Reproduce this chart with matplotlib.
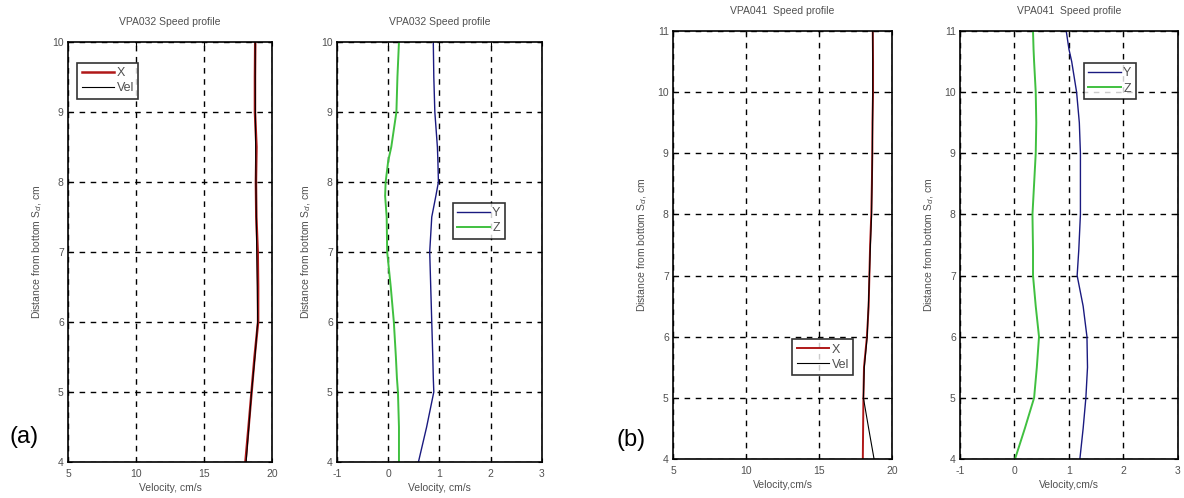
import numpy as np
import matplotlib
matplotlib.use("Agg")
import matplotlib.pyplot as plt

plt.rcParams['font.family'] = ['Liberation Sans', 'DejaVu Sans']
plt.rcParams['axes.unicode_minus'] = False

# ---- data ----
# (a) VPA032
depth_a = [4, 4.5, 5, 5.5, 6, 6.5, 7, 7.5, 8, 8.5, 9, 9.5, 10]
vel_a = [18.1, 18.3, 18.5, 18.75, 18.95, 18.92, 18.88, 18.85, 18.82, 18.8, 18.78, 18.77, 18.77]
x_a = [18.05, 18.28, 18.5, 18.72, 18.98, 18.98, 18.95, 18.85, 18.82, 18.86, 18.75, 18.75, 18.77]

depth_a2 = [4, 4.5, 5, 5.2, 5.5, 6, 6.5, 7, 7.5, 7.8, 8, 8.3, 8.5, 9, 9.5, 10]
y_a = [0.59, 0.75, 0.89, 0.88, 0.87, 0.85, 0.83, 0.81, 0.85, 0.93, 0.98, 0.97, 0.96, 0.91, 0.89, 0.88]
z_a = [0.21, 0.21, 0.19, 0.17, 0.15, 0.11, 0.05, -0.02, -0.03, -0.06, -0.05, 0.0, 0.06, 0.16, 0.18, 0.21]

# (b) VPA041
depth_b = [4, 4.5, 5, 5.5, 6, 6.5, 7, 7.5, 8, 8.5, 9, 9.5, 10, 10.5, 11]
vel_b = [18.77, 18.4, 18.04, 18.1, 18.3, 18.38, 18.45, 18.52, 18.6, 18.63, 18.65, 18.67, 18.68, 18.68, 18.68]
x_b = [18.0, 18.02, 18.04, 18.08, 18.28, 18.4, 18.45, 18.5, 18.58, 18.62, 18.65, 18.66, 18.7, 18.7, 18.68]

depth_b2 = [4, 4.5, 5, 5.5, 6, 6.5, 7, 7.42, 8, 8.5, 9, 9.5, 10, 10.5, 10.7, 11]
y_b = [1.20, 1.26, 1.31, 1.34, 1.33, 1.26, 1.15, 1.18, 1.21, 1.21, 1.21, 1.19, 1.14, 1.05, 1.0, 0.95]
z_b = [0.01, 0.19, 0.36, 0.41, 0.45, 0.39, 0.34, 0.34, 0.33, 0.36, 0.39, 0.40, 0.39, 0.36, 0.35, 0.34]

fig = plt.figure(figsize=(11.84, 4.98), dpi=100)

text_col = '#505050'
fs = 7.5

def style(ax, xlim, xticks, ylim, title, xlabel):
    ax.set_xlim(xlim)
    ax.set_ylim(ylim)
    ax.set_xticks(xticks)
    ax.set_yticks(range(int(ylim[0]), int(ylim[1]) + 1))
    ax.grid(True, color='black', linestyle=(0, (4, 4)), linewidth=1.0)
    ax.tick_params(direction='in', length=3, labelsize=fs, labelcolor=text_col,
                   top=True, right=True)
    ax.tick_params(axis='x', pad=5)
    ax.tick_params(axis='y', pad=3)
    for s in ax.spines.values():
        s.set_linewidth(1.2)
    ax.set_title(title, fontsize=fs, color=text_col, pad=12)
    ax.set_xlabel(xlabel, fontsize=fs, color=text_col, labelpad=3)
    ax.set_ylabel('Distance from bottom S$_d$, cm', fontsize=fs, color=text_col, labelpad=6)

def legend(ax, loc, anchor):
    lg = ax.legend(loc=loc, bbox_to_anchor=anchor, fontsize=fs + 1.5, frameon=True,
                   fancybox=False, handlelength=2.6, handletextpad=0.2,
                   borderpad=0.35, labelspacing=0.25, borderaxespad=0)
    lg.get_frame().set_edgecolor('black')
    lg.get_frame().set_linewidth(1.2)
    for t in lg.get_texts():
        t.set_color(text_col)

# panel 1
ax1 = fig.add_axes([0.0574, 0.0723, 0.1723, 0.8434])
ax1.plot(x_a, depth_a, color='#b01818', linewidth=1.8, label='X')
ax1.plot(vel_a, depth_a, color='black', linewidth=0.8, label='Vel')
style(ax1, (5, 20), [5, 10, 15, 20], (4, 10), 'VPA032 Speed profile', 'Velocity, cm/s')
legend(ax1, 'upper left', (0.045, 0.95))

# panel 2
ax2 = fig.add_axes([0.2846, 0.0723, 0.1731, 0.8434])
ax2.plot(y_a, depth_a2, color='#1a1a80', linewidth=1.0, label='Y')
ax2.plot(z_a, depth_a2, color='#40c040', linewidth=1.4, label='Z')
style(ax2, (-1, 3), [-1, 0, 1, 2, 3], (4, 10), 'VPA032 Speed profile', 'Velocity, cm/s')
legend(ax2, 'upper left', (0.565, 0.617))

# panel 3
ax3 = fig.add_axes([0.5684, 0.0783, 0.1850, 0.8594])
ax3.plot(x_b, depth_b, color='#b01818', linewidth=1.4, label='X')
ax3.plot(vel_b, depth_b, color='black', linewidth=0.8, label='Vel')
style(ax3, (5, 20), [5, 10, 15, 20], (4, 11), 'VPA041  Speed profile', 'Velocity,cm/s')
legend(ax3, 'upper left', (0.545, 0.28))

# panel 4
ax4 = fig.add_axes([0.8108, 0.0783, 0.1841, 0.8594])
ax4.plot(y_b, depth_b2, color='#1a1a80', linewidth=1.0, label='Y')
ax4.plot(z_b, depth_b2, color='#40c040', linewidth=1.4, label='Z')
style(ax4, (-1, 3), [-1, 0, 1, 2, 3], (4, 11), 'VPA041  Speed profile', 'Velocity,cm/s')
legend(ax4, 'upper left', (0.568, 0.925))

fig.text(0.008, 0.11, '(a)', fontsize=17, color='black')
fig.text(0.521, 0.105, '(b)', fontsize=17, color='black')

fig.savefig('out.png', dpi=100)
